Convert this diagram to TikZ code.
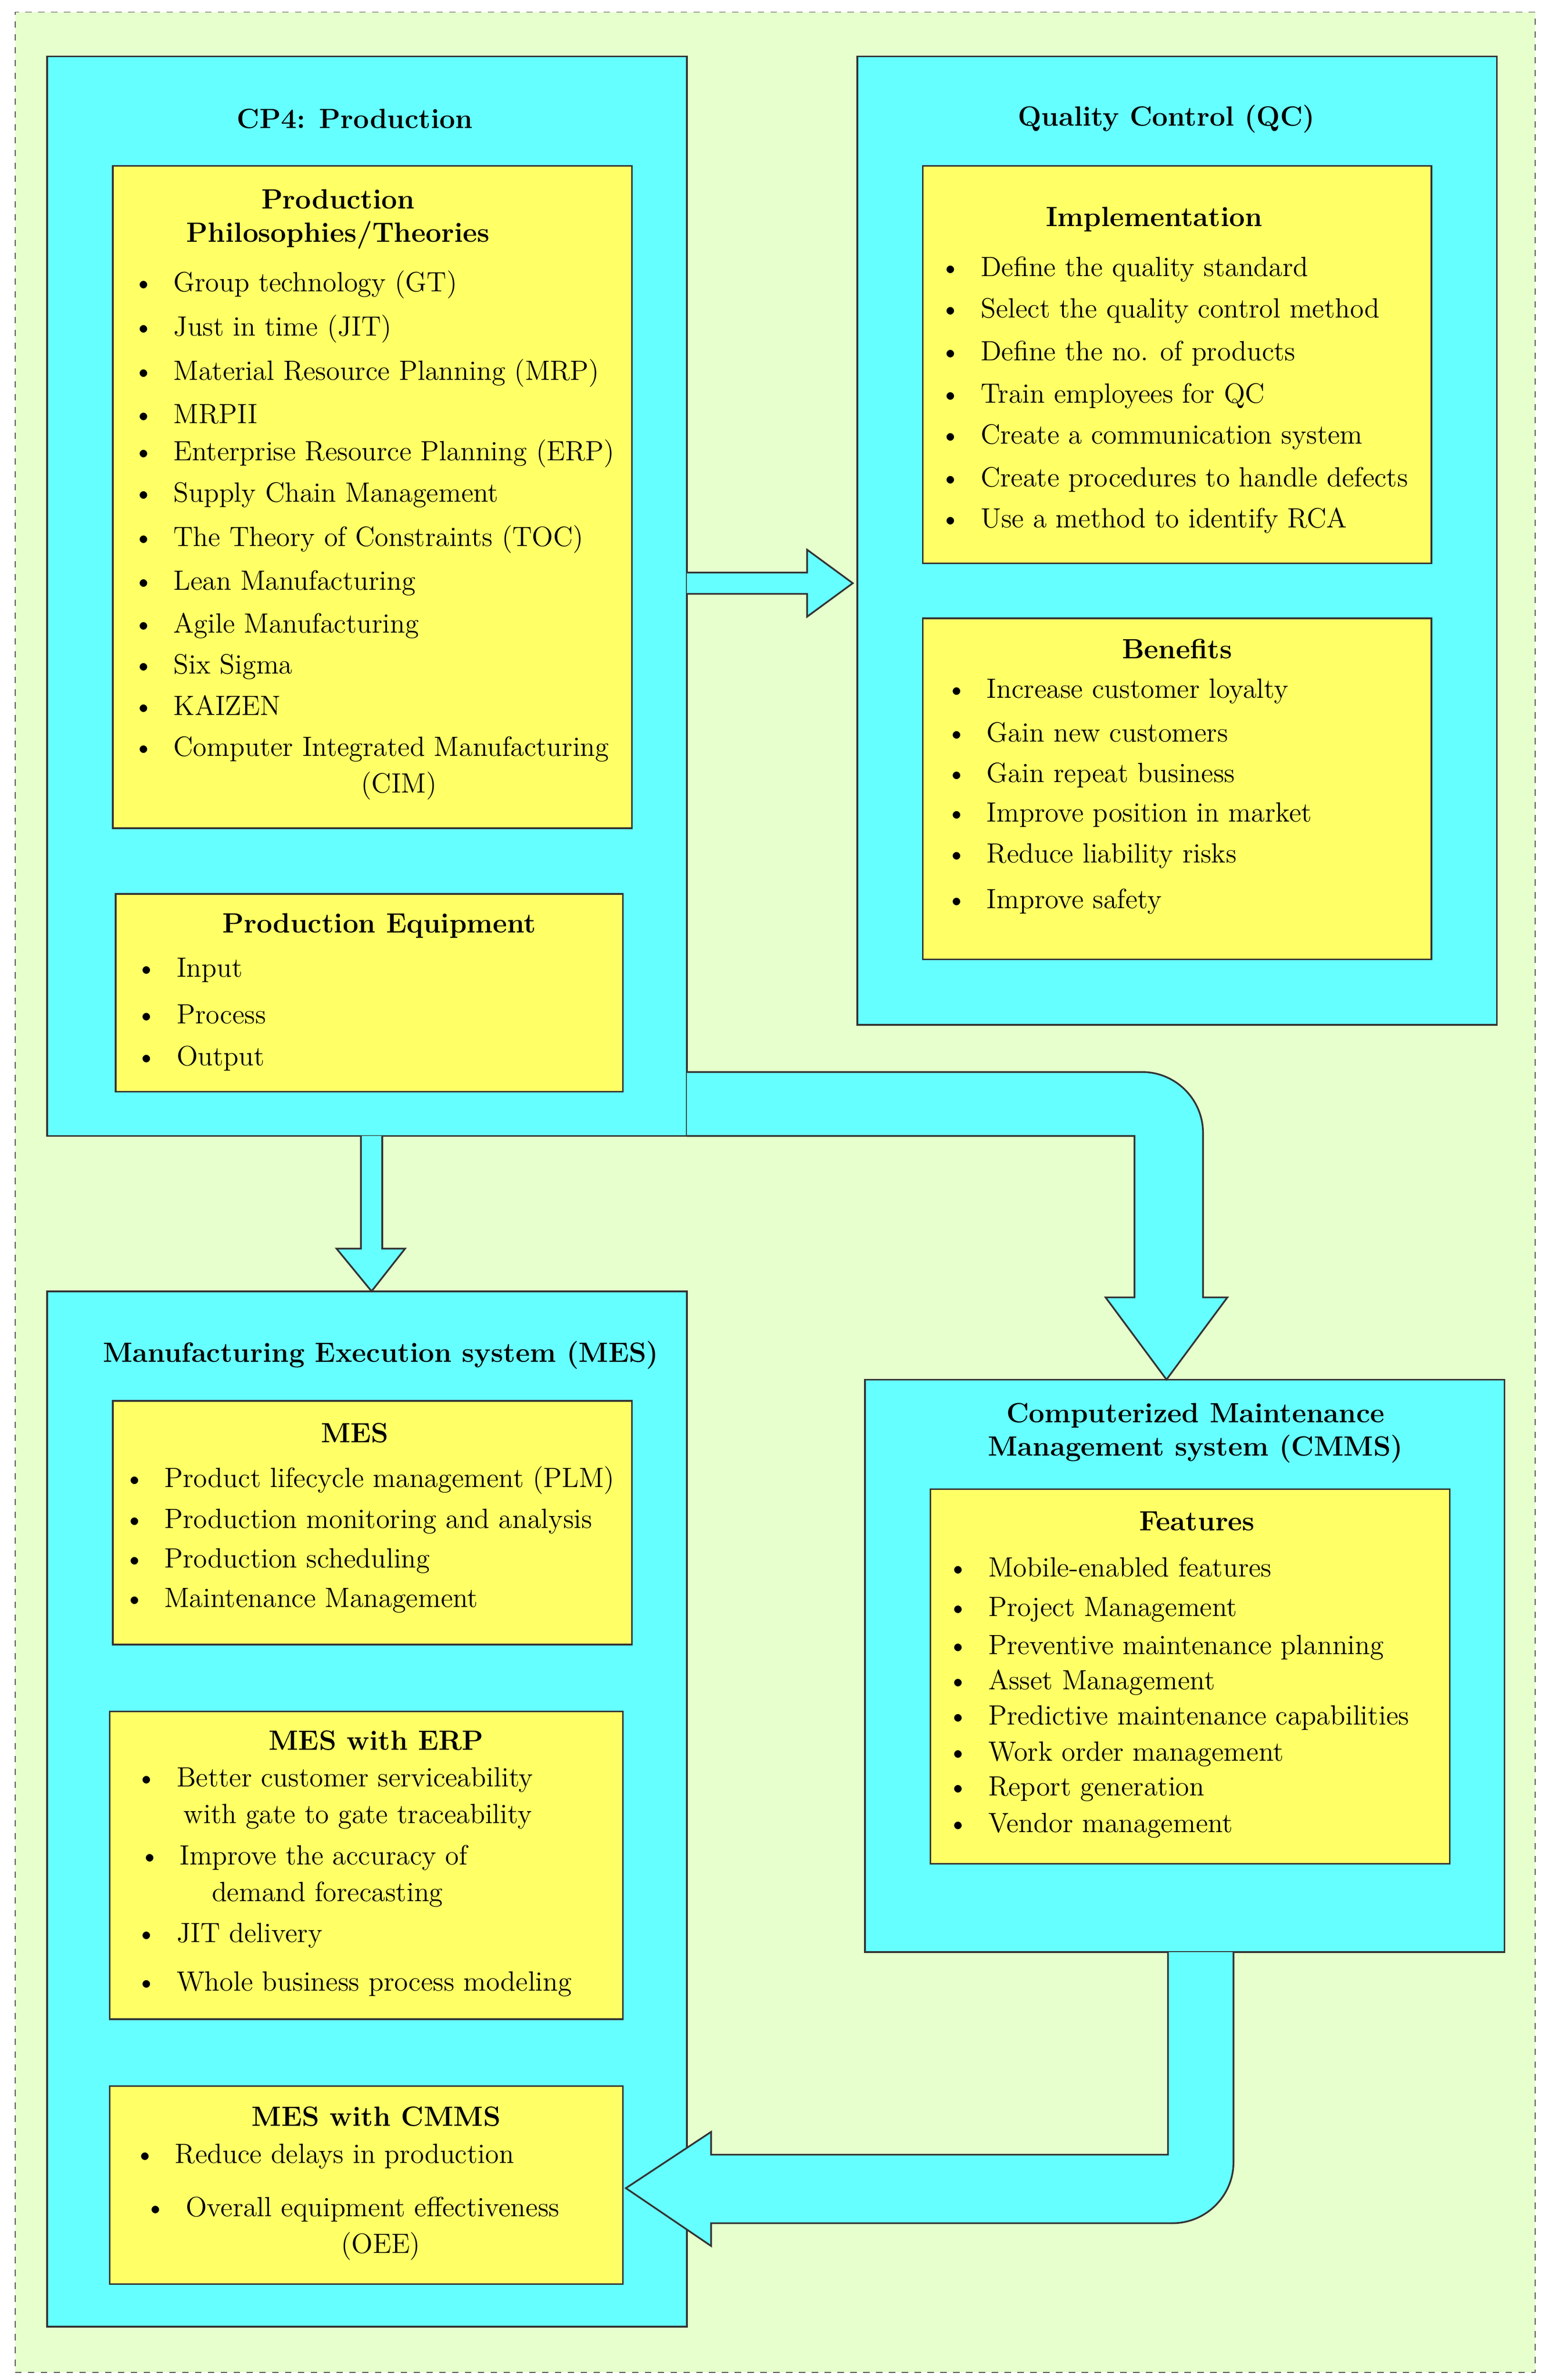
\documentclass[tikz,border=0pt]{standalone}
\usepackage{tikz}
\usetikzlibrary{arrows}
\usetikzlibrary{calc}
\newlength\px
\setlength\px{0.025cm}
\definecolor{bgc}{HTML}{E6FFCC}
\definecolor{cya}{HTML}{66FFFF}
\definecolor{yel}{HTML}{FFFF66}
\tikzstyle{outer} = [draw=black!80,fill=cya,line width=0.8pt,inner sep=0pt]
\tikzstyle{inner} = [draw=black!80,fill=yel,line width=0.8pt,inner sep=0pt]
\tikzstyle{ttl} = [font=\fontsize{13}{15.5}\selectfont\bfseries,align=center]
\tikzstyle{itm} = [font=\fontsize{13}{15.5}\selectfont,anchor=west,inner sep=0pt]
\tikzstyle{barrow} = [draw=black!80,fill=cya,line width=0.8pt]
\tikzstyle{bline} = [draw=black!80,line width=0.8pt]
\newcommand{\bul}[3]{\node[itm] at (#1,#2) {\textbullet\hspace{0.7em}#3};}

\begin{document}
\begin{tikzpicture}[x=\px,y=-\px]
\useasboundingbox (0,0) rectangle (1017,1563);
\node[draw=black!70,dashed,fill=bgc,minimum width=998\px,minimum height=1550\px,inner sep=0pt] (bg) at (509,783) {};

% Outer blocks
    \node[outer,minimum width=420\px,minimum height=709\px] (cp4) at (241,391.5) {};
    \node[outer,minimum width=420\px,minimum height=636\px] (qc) at (773,355) {};
    \node[outer,minimum width=420\px,minimum height=680\px] (mes) at (241,1188) {};
    \node[outer,minimum width=420\px,minimum height=376\px] (cmms) at (778,1094) {};
    \node[ttl] (cp4t) at (233,78) {CP4: Production};
    \node[ttl] (qct) at (766,78) {Quality Control (QC)};
    \node[ttl] (mest) at (250,890) {Manufacturing Execution system (MES)};
    \node[ttl] (cmmst) at (785,941) {Computerized Maintenance\\Management system (CMMS)};

% Block arrows
    \draw[barrow] (451,376) -- (530,376) -- (530,361) -- (560,383) -- (530,405) -- (530,390) -- (451,390);
    \draw[barrow] (237,746) -- (237,820) -- (221,820) -- (244,848) -- (266,820) -- (251,820) -- (251,746);
    \fill[cya] (451,704) -- (750,704) .. controls (772,704) and (790,722) .. (790,744) -- (790,852) -- (806,852) -- (766,906) -- (726,852) -- (745,852) -- (745,746) -- (451,746) -- cycle;
    \draw[bline] (451,704) -- (750,704) .. controls (772,704) and (790,722) .. (790,744) -- (790,852) -- (806,852) -- (766,906) -- (726,852) -- (745,852) -- (745,746) -- (451,746);
    \fill[cya] (767,1282) -- (767,1415) -- (467,1415) -- (467,1400) -- (411,1437) -- (467,1475) -- (467,1460) -- (770,1460) .. controls (792,1460) and (810,1442) .. (810,1420) -- (810,1282) -- cycle;
    \draw[bline] (767,1282) -- (767,1415) -- (467,1415) -- (467,1400) -- (411,1437) -- (467,1475) -- (467,1460) -- (770,1460) .. controls (792,1460) and (810,1442) .. (810,1420) -- (810,1282);

% Production philosophies
    \node[inner,minimum width=341\px,minimum height=435\px] (phil) at (244.5,326.5) {};
    \node[ttl] (philt) at (222,144) {Production\\Philosophies/Theories};
    \foreach \y/\t in {187/Group technology (GT),216/Just in time (JIT),245/Material Resource Planning (MRP),272/MRPII,298/Enterprise Resource Planning (ERP),325/Supply Chain Management,354/The Theory of Constraints (TOC),383/Lean Manufacturing,411/Agile Manufacturing,438/Six Sigma,463/KAIZEN}
        {\bul{87}{\y}{\t}}
    \node[itm] (cim) at (87,492) {\textbullet\hspace{0.7em}Computer Integrated Manufacturing};
    \node[itm,anchor=center] (cim2) at (262,516) {(CIM)};

% Production equipment
    \node[inner,minimum width=333\px,minimum height=130\px] (equip) at (242.5,652) {};
    \node[ttl] (equipt) at (249,608) {Production Equipment};
    \foreach \y/\t in {637/Input,666/Process,695/Output}
        {\bul{89}{\y}{\t}}

% Implementation
    \node[inner,minimum width=334\px,minimum height=261\px] (impl) at (773,239.5) {};
    \node[ttl] (implt) at (758,144) {Implementation};
    \foreach \y/\t in {177/Define the quality standard,204/Select the quality control method,232/Define the no. of products,260/Train employees for QC,287/Create a communication system,315/Create procedures to handle defects,342/Use a method to identify RCA}
        {\bul{617}{\y}{\t}}

% Benefits
    \node[inner,minimum width=334\px,minimum height=224\px] (ben) at (773,518) {};
    \node[ttl] (bent) at (773,426) {Benefits};
    \foreach \y/\t in {454/Increase customer loyalty,481/Gain new customers,509/Gain repeat business,535/Improve position in market,562/Reduce liability risks,592/Improve safety}
        {\bul{621}{\y}{\t}}

% MES
    \node[inner,minimum width=341\px,minimum height=160\px] (mesb) at (244.5,1000) {};
    \node[ttl] (mesbt) at (233,941) {MES};
    \foreach \y/\t in {972/Product lifecycle management (PLM),999/Production monitoring and analysis,1025/Production scheduling,1051/Maintenance Management}
        {\bul{81}{\y}{\t}}

% MES with ERP
    \node[inner,minimum width=337\px,minimum height=202\px] (erp) at (240.5,1225) {};
    \node[ttl] (erpt) at (247,1143) {MES with ERP};
    \bul{89}{1169}{Better customer serviceability}
    \node[itm,anchor=center] (erp1b) at (235,1193) {with gate to gate traceability};
    \bul{91}{1220}{Improve the accuracy of}
    \node[itm,anchor=center] (erp2b) at (215,1244) {demand forecasting};
    \bul{89}{1271}{JIT delivery}
    \bul{89}{1303}{Whole business process modeling}

% MES with CMMS
    \node[inner,minimum width=337\px,minimum height=130\px] (mcm) at (240.5,1435) {};
    \node[ttl] (mcmt) at (247,1390) {MES with CMMS};
    \bul{88}{1416}{Reduce delays in production}
    \bul{95}{1451}{Overall equipment effectiveness}
    \node[itm,anchor=center] (oee) at (250,1475) {(OEE)};

% Features
    \node[inner,minimum width=341\px,minimum height=246\px] (feat) at (781.5,1101) {};
    \node[ttl] (featt) at (786,999) {Features};
    \foreach \y/\t in {1029/Mobile-enabled features,1057/Project Management,1082/Preventive maintenance planning,1105/Asset Management,1128/Predictive maintenance capabilities,1152/Work order management,1175/Report generation,1199/Vendor management}
        {\bul{622}{\y}{\t}}

\end{tikzpicture}
\end{document}
